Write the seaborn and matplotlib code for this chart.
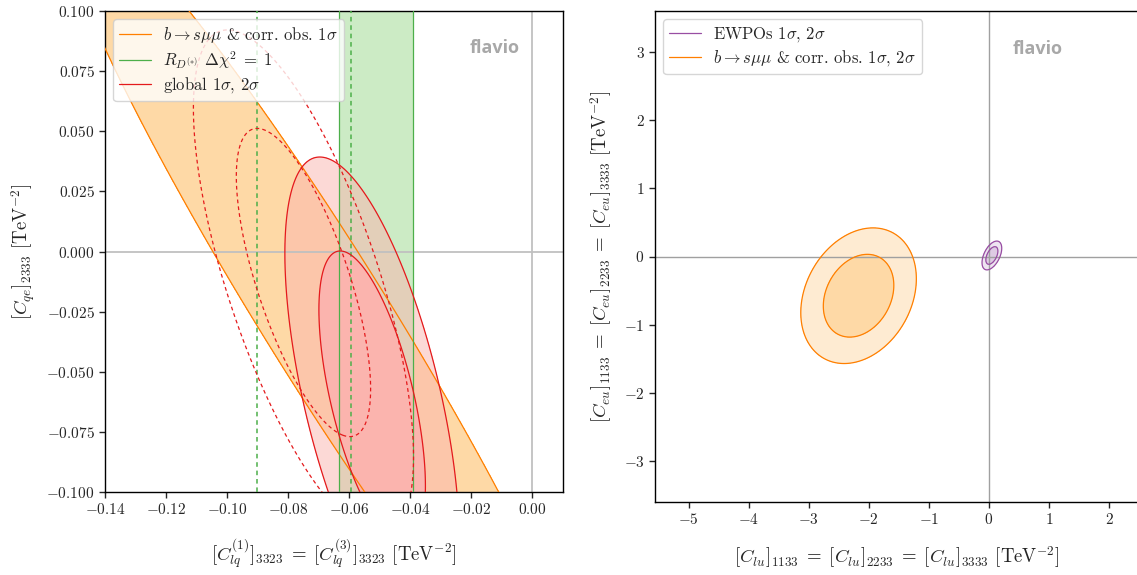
import numpy as np
import matplotlib
matplotlib.use("Agg")
import matplotlib.pyplot as plt
from matplotlib.colors import to_rgba
from matplotlib.lines import Line2D
import seaborn as sns

# Gaussian approximations of the fits
# left panel: x = [C_lq^(1)]_3323 = [C_lq^(3)]_3323, y = [C_qe]_2333
bsmm_mean = [-0.0675, -0.0281]
bsmm_sigma = [0.058, 0.1163]
bsmm_rho = -0.962

global_mean = [-0.0525, -0.0609]
global_sigma = [0.0115, 0.0403]
global_rho = -0.6

global_alt_mean = [-0.075, -0.0129]
global_alt_sigma = [0.0145, 0.04225]
global_alt_rho = -0.69

rd_band = [-0.0632, -0.0391]        # R_D(*) delta chi2 = 1
rd_alt_band = [-0.0903, -0.0594]    # dashed variant

# right panel: x = [C_lu]_ii33, y = [C_eu]_ii33
ewpo_mean = [0.05, 0.015]
ewpo_sigma = [0.066, 0.085]
ewpo_rho = 0.5

bsmm_r_mean = [-2.17, -0.575]
bsmm_r_sigma = [0.387, 0.40]
bsmm_r_rho = 0.25

left_xticks = [-0.14, -0.12, -0.10, -0.08, -0.06, -0.04, -0.02, 0.00]
left_yticks = [-0.100, -0.075, -0.050, -0.025, 0.000, 0.025, 0.050, 0.075, 0.100]
right_xticks = [-5, -4, -3, -2, -1, 0, 1, 2]
right_yticks = [-3, -2, -1, 0, 1, 2, 3]

sigma_levels = [2.30, 6.18]  # delta chi2 for 1 sigma, 2 sigma (2 dof)

sns.set_style("ticks")
plt.rcParams['font.family'] = ['cmr10', 'DejaVu Serif']
plt.rcParams['mathtext.fontset'] = 'cm'
plt.rcParams['axes.formatter.use_mathtext'] = True
plt.rcParams['axes.unicode_minus'] = True

pastel = sns.color_palette("Pastel1")
strong = sns.color_palette("Set1")
RED, GREEN, PURPLE, ORANGE = 0, 2, 3, 4


def delta_chi2(X, Y, mean, sigma, rho):
    zx = (X - mean[0]) / sigma[0]
    zy = (Y - mean[1]) / sigma[1]
    return (zx**2 - 2 * rho * zx * zy + zy**2) / (1 - rho**2)


def draw_fit(ax, X, Y, mean, sigma, rho, col, nsig=2, filled=True, ls='-', zf=1):
    z = delta_chi2(X, Y, mean, sigma, rho)
    lv = sigma_levels[:nsig]
    if filled:
        fills = [to_rgba(pastel[col], 1.0), to_rgba(pastel[col], 0.5)][:nsig]
        ax.contourf(X, Y, z, levels=[-1] + lv, colors=fills, zorder=zf)
    ax.contour(X, Y, z, levels=lv, colors=[strong[col]], linewidths=0.9,
               linestyles=[ls], zorder=3)


leg_kw = dict(loc='upper left', fontsize=12, framealpha=0.8, labelspacing=0.25,
              handlelength=1.9, handletextpad=0.75, borderaxespad=0.5,
              borderpad=0.35)

fig = plt.figure(figsize=(11.37, 5.75), dpi=100)
ax1 = fig.add_axes([105 / 1137, 83 / 575, 458 / 1137, 481 / 575])
ax2 = fig.add_axes([655 / 1137, 73 / 575, 484 / 1137, 491 / 575])

# ---- left panel
X, Y = np.meshgrid(np.linspace(-0.2, 0.06, 700), np.linspace(-0.26, 0.2, 700))
draw_fit(ax1, X, Y, bsmm_mean, bsmm_sigma, bsmm_rho, ORANGE, nsig=1, zf=1)
ax1.axvspan(rd_band[0], rd_band[1], color=pastel[GREEN], zorder=1.05, lw=0)
for xb in rd_band:
    ax1.axvline(xb, color=strong[GREEN], lw=0.9, zorder=3)
for xb in rd_alt_band:
    ax1.axvline(xb, color=strong[GREEN], lw=1.1, ls=(0, (3, 2.5)), zorder=3)
draw_fit(ax1, X, Y, global_mean, global_sigma, global_rho, RED, zf=1.1)
draw_fit(ax1, X, Y, global_alt_mean, global_alt_sigma, global_alt_rho, RED,
         filled=False, ls=(0, (3, 2.5)))
ax1.axhline(0, color='#c0c0c0', lw=1.3, zorder=2)
ax1.axvline(0, color='#c0c0c0', lw=1.3, zorder=2)

ax1.set_xlim(-0.14, 0.01)
ax1.set_ylim(-0.1, 0.1)
ax1.set_xticks(left_xticks)
ax1.set_yticks(left_yticks)
ax1.set_xlabel(r"$[C_{lq}^{(1)}]_{3323} \;=\; [C_{lq}^{(3)}]_{3323}$ [TeV$^{-2}$]",
               fontsize=13.5, labelpad=14)
ax1.set_ylabel(r"$[C_{qe}]_{2333}$ [TeV$^{-2}$]", fontsize=13.5, labelpad=6.5)
ax1.text(0.85, 0.923, "flavio", transform=ax1.transAxes, ha='center', va='center',
         family='Open Sans', weight='bold', fontsize=13, color='#a8a8a8')
h1 = [Line2D([], [], color=strong[ORANGE], lw=0.9),
      Line2D([], [], color=strong[GREEN], lw=0.9),
      Line2D([], [], color=strong[RED], lw=0.9)]
ax1.legend(h1, [r"$b\to s\mu\mu$ & corr. obs. 1$\sigma$",
                r"$R_{D^{(*)}}$ $\Delta\chi^2 \;=\; 1$",
                r"global 1$\sigma$, 2$\sigma$"], **leg_kw)

# ---- right panel
X2, Y2 = np.meshgrid(np.linspace(-6, 3, 1500), np.linspace(-4, 4, 1500))
draw_fit(ax2, X2, Y2, ewpo_mean, ewpo_sigma, ewpo_rho, PURPLE)
draw_fit(ax2, X2, Y2, bsmm_r_mean, bsmm_r_sigma, bsmm_r_rho, ORANGE)
ax2.axhline(0, color='#a0a0a0', lw=1.0, zorder=2)
ax2.axvline(0, color='#a0a0a0', lw=1.0, zorder=2)

ax2.set_xlim(-5.56, 2.5)
ax2.set_ylim(-3.6, 3.6)
ax2.set_xticks(right_xticks)
ax2.set_yticks(right_yticks)
ax2.set_xlabel(r"$[C_{lu}]_{1133} \;=\; [C_{lu}]_{2233} \;=\; [C_{lu}]_{3333}$ [TeV$^{-2}$]",
               fontsize=13.5, labelpad=12)
ax2.set_ylabel(r"$[C_{eu}]_{1133} \;=\; [C_{eu}]_{2233} \;=\; [C_{eu}]_{3333}$ [TeV$^{-2}$]",
               fontsize=13.5, labelpad=7)
ax2.text(0.79, 0.923, "flavio", transform=ax2.transAxes, ha='center', va='center',
         family='Open Sans', weight='bold', fontsize=13, color='#a8a8a8')
h2 = [Line2D([], [], color=strong[PURPLE], lw=0.9),
      Line2D([], [], color=strong[ORANGE], lw=0.9)]
ax2.legend(h2, [r"EWPOs 1$\sigma$, 2$\sigma$",
                r"$b\to s\mu\mu$ & corr. obs. 1$\sigma$, 2$\sigma$"], **leg_kw)

for ax in (ax1, ax2):
    ax.tick_params(labelsize=11, length=4, width=1)
    for sp in ax.spines.values():
        sp.set_linewidth(1.0)
        sp.set_color('black')

fig.savefig("out.png", dpi=100)
